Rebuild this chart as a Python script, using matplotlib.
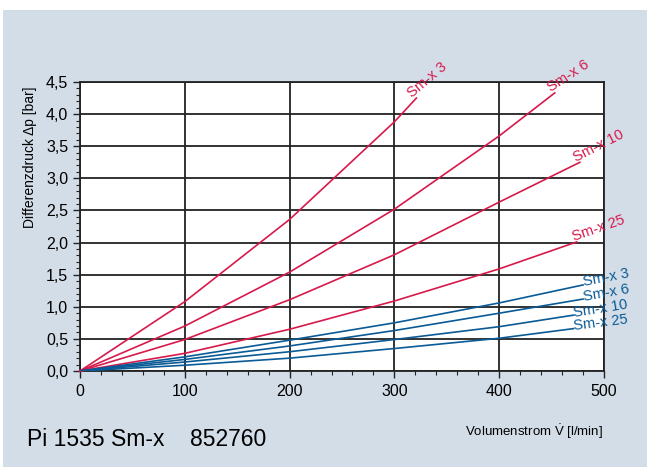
import numpy as np
import matplotlib.pyplot as plt
from matplotlib.ticker import MultipleLocator, FuncFormatter
from matplotlib.patches import Rectangle

plt.rcParams['font.family'] = ['Liberation Sans', 'DejaVu Sans']
plt.rcParams['mathtext.fontset'] = 'custom'
plt.rcParams['mathtext.rm'] = 'Liberation Sans'

# volume flow [l/min] and pressure drop [bar]
flow_sm3 = [0, 100, 200, 300, 321]
dp_sm3 = [0, 1.08, 2.36, 3.88, 4.25]
flow_sm6 = [0, 100, 200, 300, 400, 453]
dp_sm6 = [0, 0.70, 1.54, 2.52, 3.66, 4.33]
flow_sm10 = [0, 100, 200, 300, 400, 477]
dp_sm10 = [0, 0.49, 1.11, 1.81, 2.63, 3.25]
flow_sm25 = [0, 100, 200, 300, 400, 474]
dp_sm25 = [0, 0.275, 0.65, 1.09, 1.59, 2.01]

# blue family
flow_b3 = [0, 100, 200, 300, 400, 480]
dp_b3 = [0, 0.22, 0.48, 0.75, 1.06, 1.34]
flow_b6 = [0, 100, 200, 300, 400, 480]
dp_b6 = [0, 0.18, 0.39, 0.63, 0.90, 1.12]
flow_b10 = [0, 100, 200, 300, 400, 471]
dp_b10 = [0, 0.14, 0.30, 0.49, 0.69, 0.87]
flow_b25 = [0, 100, 200, 300, 400, 471]
dp_b25 = [0, 0.09, 0.20, 0.35, 0.51, 0.66]

red_curves = [(flow_sm3, dp_sm3, 'Sm-x 3', 40), (flow_sm6, dp_sm6, 'Sm-x 6', 33),
              (flow_sm10, dp_sm10, 'Sm-x 10', 27), (flow_sm25, dp_sm25, 'Sm-x 25', 19)]
blue_curves = [(flow_b3, dp_b3, 'Sm-x 3', 11), (flow_b6, dp_b6, 'Sm-x 6', 10),
               (flow_b10, dp_b10, 'Sm-x 10', 9), (flow_b25, dp_b25, 'Sm-x 25', 7)]

red = '#d7194b'
blue = '#0a5a96'
bg = '#d3dde8'

fig = plt.figure(figsize=(6.47, 4.67), dpi=100, facecolor='white')
fig.patches.append(Rectangle((3/647, 0), 1, (467-10)/467, transform=fig.transFigure,
                             facecolor=bg, edgecolor='none', zorder=-10))
ax = fig.add_axes([80/647, 96/467, 524/647, 289/467])
ax.set_facecolor('white')

for fx, dp, name, rot in red_curves:
    ax.plot(fx, dp, color=red, lw=1.2, zorder=3, clip_on=False)
    ax.text(fx[-1] - 2, dp[-1] - 0.03, name, color=red, fontsize=10.5, rotation=rot,
            rotation_mode='anchor', ha='left', va='bottom', zorder=4)
for fx, dp, name, rot in blue_curves:
    ax.plot(fx, dp, color=blue, lw=1.2, zorder=3)
    ax.text(fx[-1] + 1, dp[-1] - 0.07, name, color=blue, fontsize=10.5, rotation=rot,
            rotation_mode='anchor', ha='left', va='bottom', zorder=4)

ax.set_xlim(0, 500)
ax.set_ylim(0, 4.5)
ax.xaxis.set_major_locator(MultipleLocator(100))
ax.xaxis.set_minor_locator(MultipleLocator(20))
ax.yaxis.set_major_locator(MultipleLocator(0.5))
ax.yaxis.set_minor_locator(MultipleLocator(0.1))
ax.yaxis.set_major_formatter(FuncFormatter(lambda v, p: ('%.1f' % v).replace('.', ',')))
ax.tick_params(which='major', direction='out', length=5, width=1, labelsize=11.5, color='#222222')
ax.tick_params(which='minor', direction='out', length=3, width=0.8, color='#222222')
ax.tick_params(axis='x', pad=4)
ax.grid(True, which='major', color='#222222', lw=1.3)
for s in ax.spines.values():
    s.set_color('#222222')
    s.set_linewidth(1.3)

fig.text(30/647, 1 - 157/467, 'Differenzdruck Δp [bar]', rotation=90, fontsize=10,
         ha='center', va='center')
fig.text(603/647, 1 - 432/467, r'Volumenstrom $\dot{\mathrm{V}}$ [l/min]', fontsize=9.5,
         ha='right', va='center')
fig.text(27/647, 1 - 439/467, 'Pi 1535 Sm-x    852760', fontsize=16.5, ha='left', va='center')

fig.savefig('out.png', dpi=100, facecolor=fig.get_facecolor())
